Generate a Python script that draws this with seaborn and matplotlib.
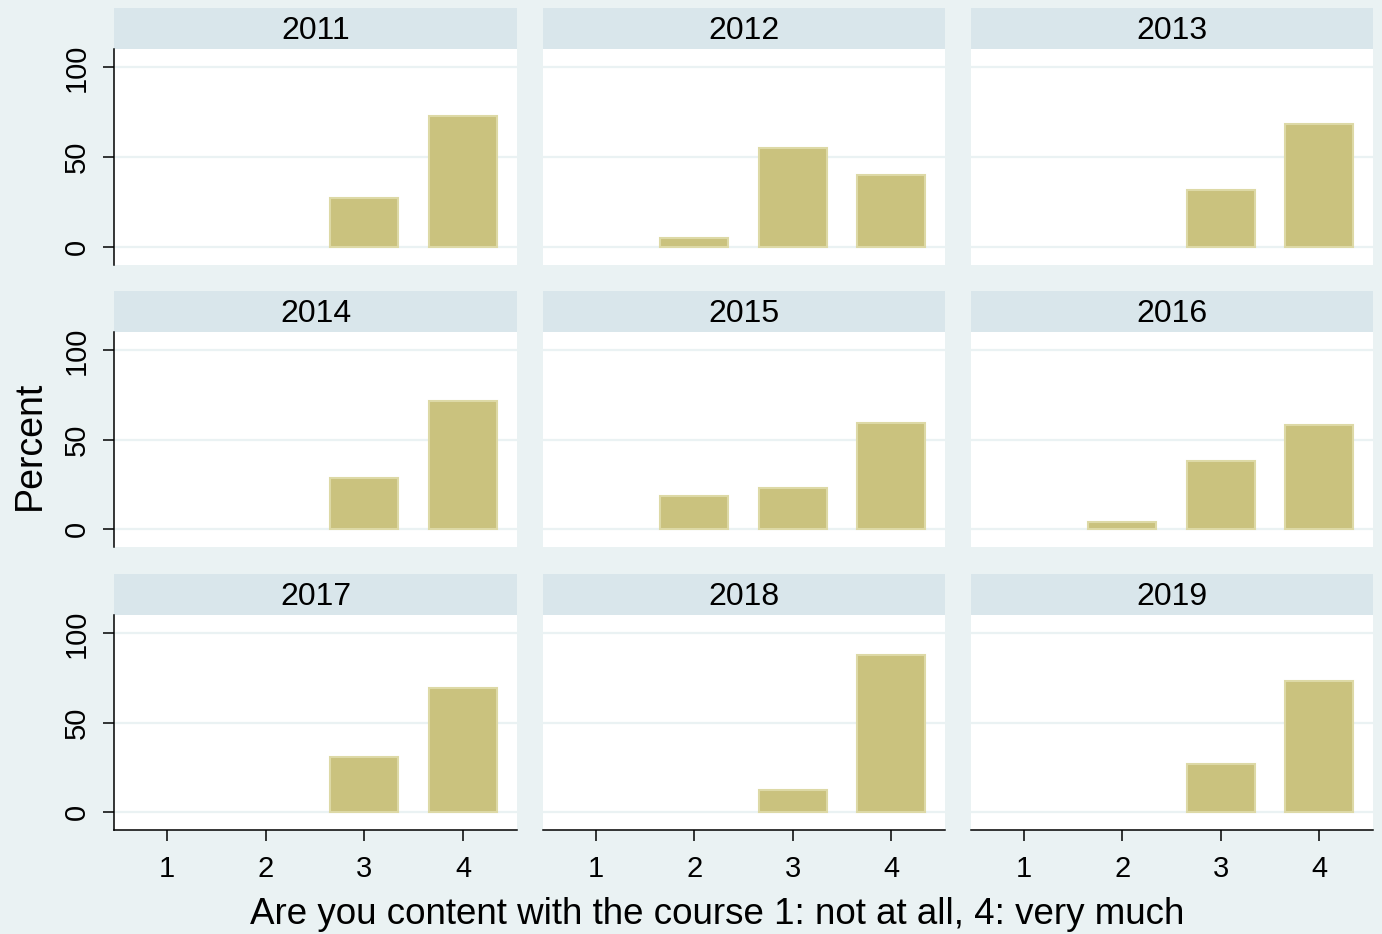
import pandas as pd
import seaborn as sns
import matplotlib.pyplot as plt

# survey data: percent of answers per level, one entry per year
years = [2011, 2012, 2013, 2014, 2015, 2016, 2017, 2018, 2019]
levels = [1, 2, 3, 4]
pct_level1 = [0, 0, 0, 0, 0, 0, 0, 0, 0]
pct_level2 = [0, 4.8, 0, 0, 18.2, 3.8, 0, 0, 0]
pct_level3 = [27.3, 55.0, 31.3, 28.6, 22.7, 38.0, 30.4, 12.0, 26.7]
pct_level4 = [72.7, 40.2, 68.7, 71.4, 59.1, 58.2, 69.6, 88.0, 73.3]
y_ticks = [0, 50, 100]

rows = []
for lvl, vals in zip(levels, [pct_level1, pct_level2, pct_level3, pct_level4]):
    for yr, v in zip(years, vals):
        if v > 0:
            rows.append({"year": yr, "level": lvl, "percent": v})
df = pd.DataFrame(rows)

sns.set_style("white")
plt.rcParams["font.family"] = ["Liberation Sans", "DejaVu Sans"]
plt.rcParams["text.color"] = "black"

BG = "#EAF2F3"
STRIP = "#D9E6EB"
BAR = "#CAC27E"
BAR_EDGE = "#DDD9A6"

W, H = 1382, 934
fig = plt.figure(figsize=(W / 100, H / 100), dpi=100, facecolor=BG)

col_x = [(114, 517), (543, 945), (971, 1373)]
row_y = [(49, 265), (332, 547), (615, 830)]
strip_h = 41


def rect(x0, x1, y0, y1):
    return [x0 / W, (H - y1) / H, (x1 - x0) / W, (y1 - y0) / H]


for i, yr in enumerate(years):
    r, c = divmod(i, 3)
    x0, x1 = col_x[c]
    y0, y1 = row_y[r]

    # strip with the year
    sax = fig.add_axes(rect(x0, x1, y0 - strip_h, y0))
    sax.set_facecolor(STRIP)
    sax.set_xticks([])
    sax.set_yticks([])
    for s in sax.spines.values():
        s.set_visible(False)
    sax.text(0.5, 0.44, str(yr), ha="center", va="center", fontsize=23,
             color="black", transform=sax.transAxes)

    ax = fig.add_axes(rect(x0, x1, y0, y1))
    ax.set_facecolor("white")
    for yv in y_ticks:
        ax.axhline(yv, color=BG, lw=1.6, zorder=0)

    sub = df[df["year"] == yr]
    sns.barplot(data=sub, x="level", y="percent", ax=ax, native_scale=True,
                width=0.69, color=BAR, edgecolor=BAR_EDGE, linewidth=1.5,
                saturation=1, errorbar=None, zorder=2)

    ax.set_xlim(0.463, 4.547)
    ax.set_ylim(-10.3, 110.3)
    ax.set_xlabel("")
    ax.set_ylabel("")
    for s in ax.spines.values():
        s.set_visible(False)

    if c == 0:
        ax.spines["left"].set_visible(True)
        ax.spines["left"].set_color("black")
        ax.spines["left"].set_linewidth(1.1)
        ax.set_yticks(y_ticks)
        ax.set_yticklabels([str(t) for t in y_ticks], rotation=90, va="center")
        ax.tick_params(axis="y", left=True, length=8, width=1.1, pad=9,
                       labelsize=21, color="black", labelcolor="black")
    else:
        ax.set_yticks([])

    if r == 2:
        ax.spines["bottom"].set_visible(True)
        ax.spines["bottom"].set_color("black")
        ax.spines["bottom"].set_linewidth(1.1)
        ax.set_xticks(levels)
        ax.set_xticklabels([str(l) for l in levels])
        ax.tick_params(axis="x", bottom=True, length=8, width=1.1, pad=10,
                       labelsize=21, color="black", labelcolor="black")
    else:
        ax.set_xticks([])

fig.text(30 / W, 1 - 445 / H, "Percent", rotation=90, ha="center",
         va="center", fontsize=27, color="black")
fig.text(717 / W, 1 - 914 / H,
         "Are you content with the course 1: not at all, 4: very much",
         ha="center", va="center", fontsize=26.5, color="black")

fig.savefig("out.png", dpi=100, facecolor=BG)
